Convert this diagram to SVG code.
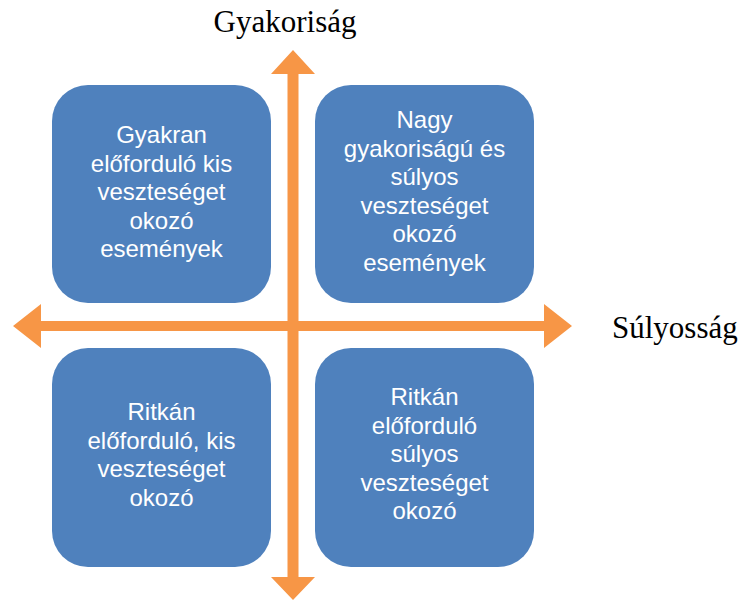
<svg xmlns="http://www.w3.org/2000/svg" width="744" height="600" viewBox="0 0 744 600">
<style>
.box{fill:#4F81BD;}
.lbl{font-family:"Liberation Sans",Arial,sans-serif;font-size:24px;fill:#FFFFFF;text-anchor:middle;}
.axis{font-family:"Liberation Serif","Times New Roman",serif;font-size:31px;fill:#000000;}
.arrow{fill:#F79646;}
</style>
<rect width="744" height="600" fill="#FFFFFF"/>
<g id="connectors">
<polygon class="arrow" points="293,50 315,74 298.5,74 298.5,577 315,577 293,600 271,577 287.5,577 287.5,74 271,74"/>
<polygon class="arrow" points="13,326 41,304 41,321 544,321 544,304 572,326 544,348 544,331 41,331 41,348"/>
</g>
<g id="node-gyakori-kis">
<rect class="box" x="52" y="85" width="219" height="218" rx="36" ry="36"/>
<text class="lbl" x="161.5" y="143">Gyakran</text>
<text class="lbl" x="161.5" y="171.5">előforduló kis</text>
<text class="lbl" x="161.5" y="200">veszteséget</text>
<text class="lbl" x="161.5" y="228.5">okozó</text>
<text class="lbl" x="161.5" y="257">események</text>
</g>
<g id="node-gyakori-sulyos">
<rect class="box" x="315" y="85" width="219" height="218" rx="36" ry="36"/>
<text class="lbl" x="424.5" y="128">Nagy</text>
<text class="lbl" x="424.5" y="156.5">gyakoriságú és</text>
<text class="lbl" x="424.5" y="185">súlyos</text>
<text class="lbl" x="424.5" y="213.5">veszteséget</text>
<text class="lbl" x="424.5" y="242">okozó</text>
<text class="lbl" x="424.5" y="270.5">események</text>
</g>
<g id="node-ritka-kis">
<rect class="box" x="52" y="348" width="219" height="219" rx="36" ry="36"/>
<text class="lbl" x="161.5" y="420">Ritkán</text>
<text class="lbl" x="161.5" y="448.5">előforduló, kis</text>
<text class="lbl" x="161.5" y="477">veszteséget</text>
<text class="lbl" x="161.5" y="505.5">okozó</text>
</g>
<g id="node-ritka-sulyos">
<rect class="box" x="315" y="348" width="219" height="219" rx="36" ry="36"/>
<text class="lbl" x="424.5" y="405">Ritkán</text>
<text class="lbl" x="424.5" y="433.5">előforduló</text>
<text class="lbl" x="424.5" y="462">súlyos</text>
<text class="lbl" x="424.5" y="490.5">veszteséget</text>
<text class="lbl" x="424.5" y="519">okozó</text>
</g>
<g id="axis-labels">
<text class="axis" x="285" y="32" text-anchor="middle">Gyakoriság</text>
<text class="axis" x="612" y="338">Súlyosság</text>
</g>
</svg>
